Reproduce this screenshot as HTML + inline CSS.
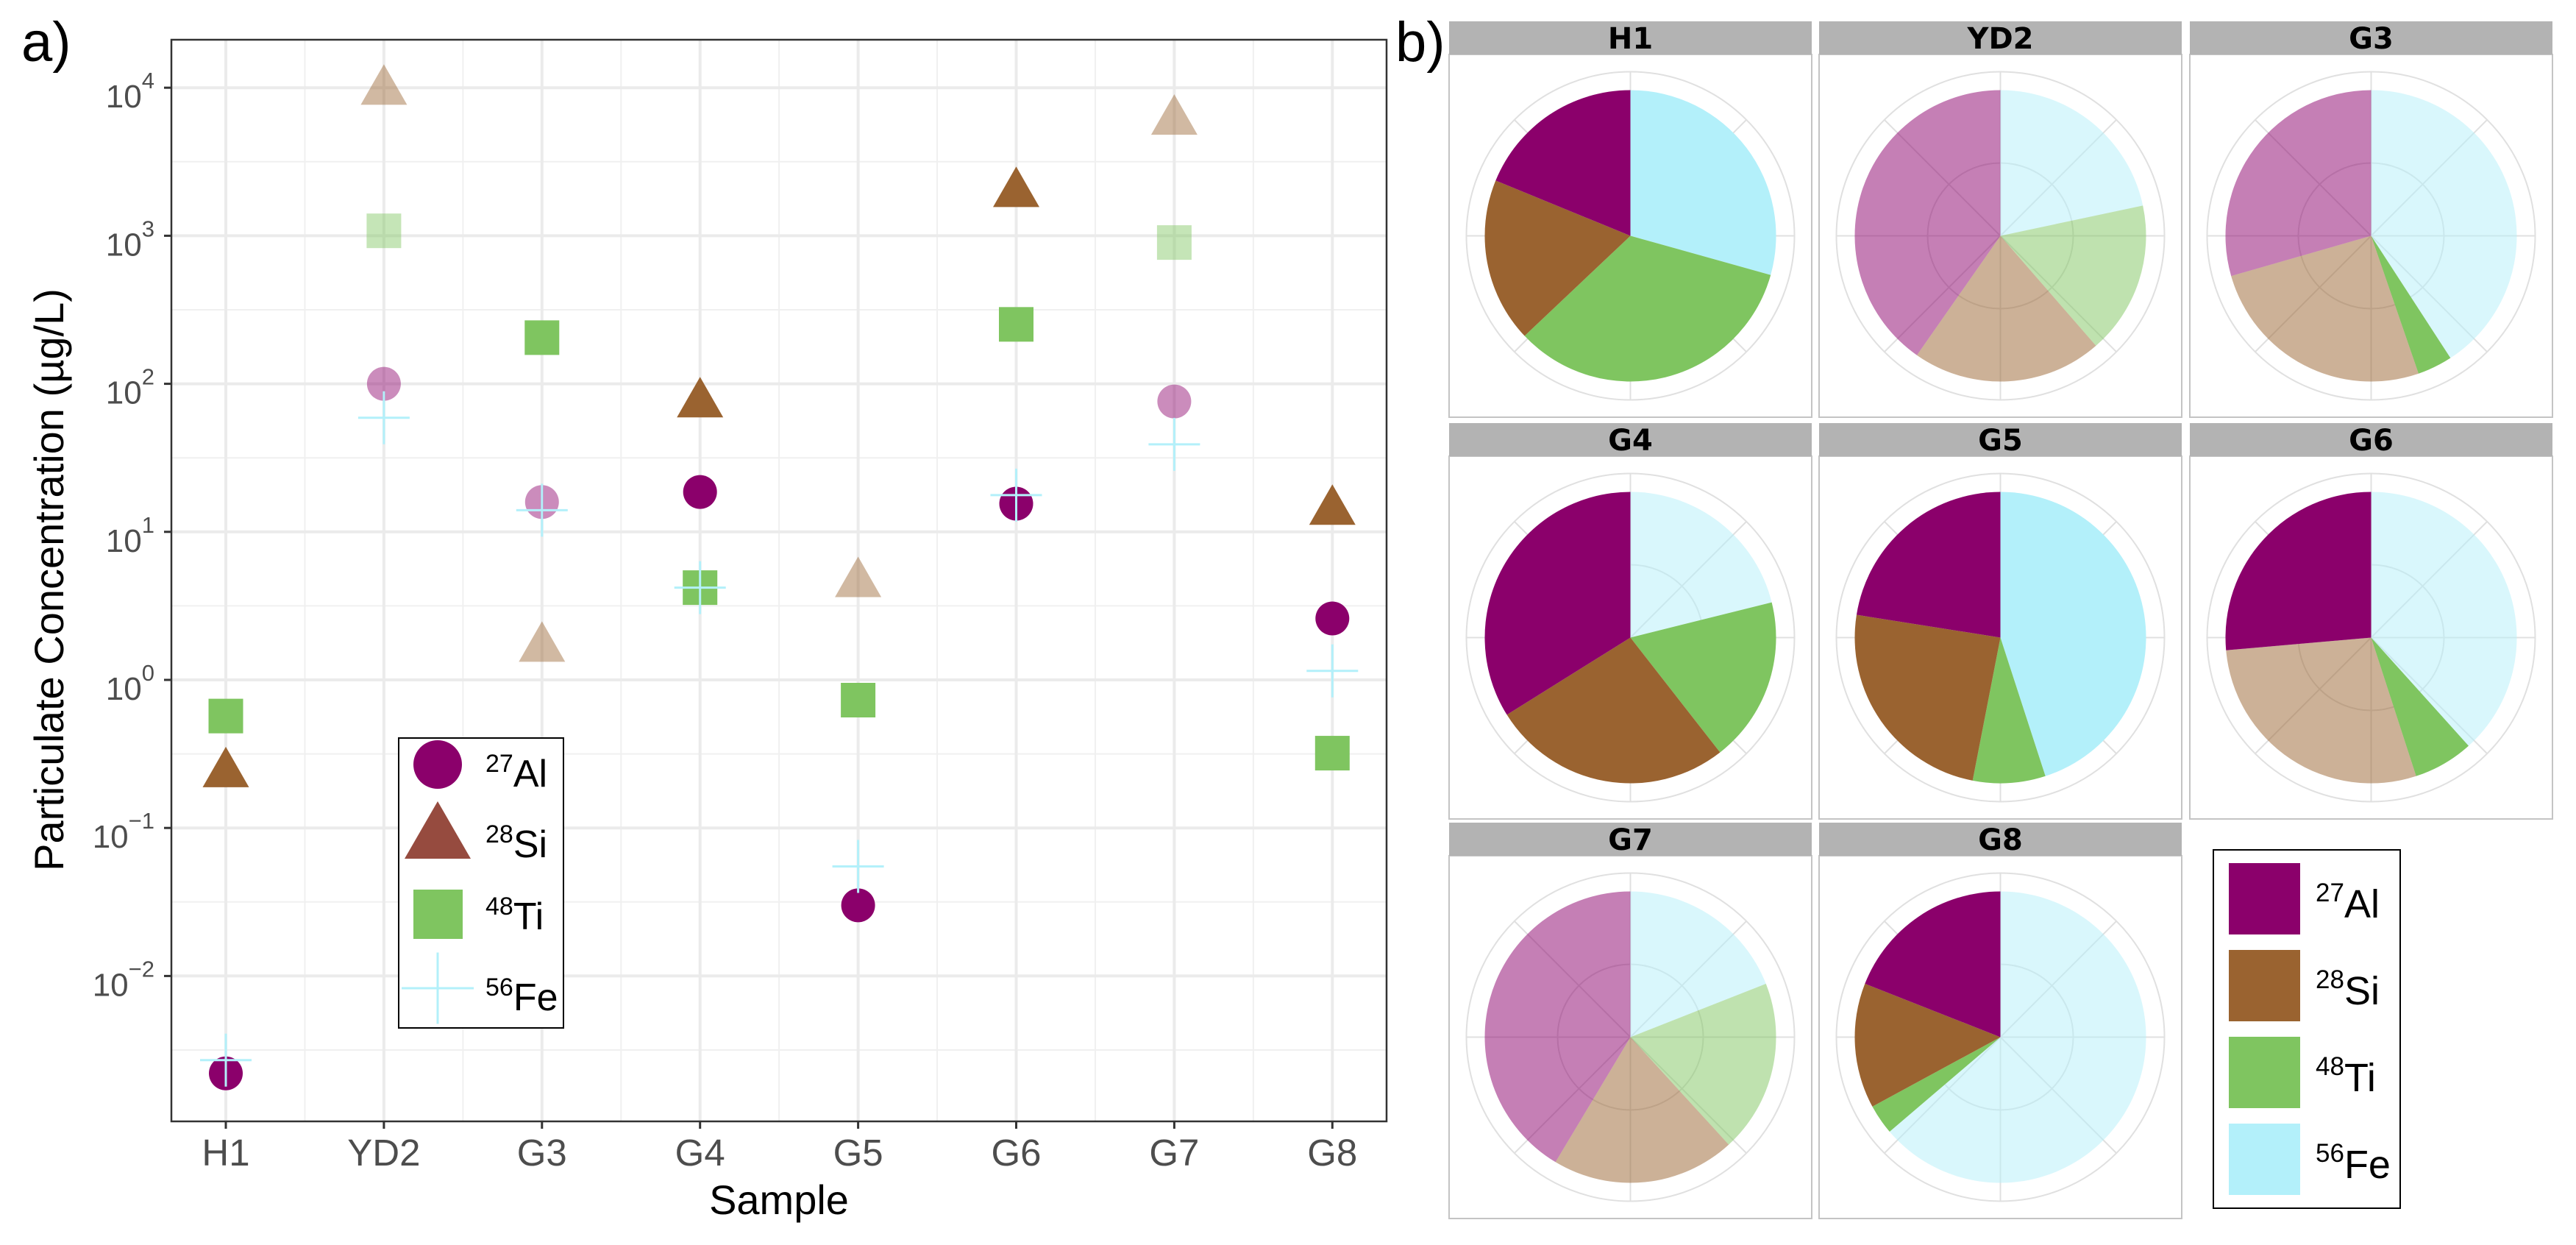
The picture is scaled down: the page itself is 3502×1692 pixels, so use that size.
<!DOCTYPE html>
<html><head><meta charset="utf-8"><style>
html,body{margin:0;padding:0;background:#fff;}
svg{display:block;font-family:"Liberation Sans",Arial,sans-serif;}
</style></head><body>
<svg id="fig" width="3502" height="1692" viewBox="0 0 3502 1692" xmlns="http://www.w3.org/2000/svg">
<rect width="3502" height="1692" fill="#fff"/>
<text x="29" y="83" font-size="76">a)</text>
<text x="1897" y="83" font-size="76">b)</text>
<g id="scatter"></g>
<g id="pies"></g>
</svg>
<script>
const samples = ["H1","YD2","G3","G4","G5","G6","G7","G8"];
const elements = ["Al","Si","Ti","Fe"];
const isotopes = ["27","28","48","56"];
const alValues = [0.0022, 100, 15.9, 18.6, 0.030, 15.5, 76, 2.6];
const siValues = [0.27, 11000, 1.9, 85, 5.2, 2240, 6900, 16];
const tiValues = [0.57, 1080, 205, 4.2, 0.73, 252, 900, 0.32];
const feValues = [0.0027, 59, 14, 4.2, 0.055, 17.7, 39, 1.15];
const alFaded = [0,1,1,0,0,0,1,0];
const siFaded = [0,1,1,0,1,0,1,0];
const tiFaded = [0,1,0,0,0,0,1,0];
const feFaded = [0,0,0,0,0,0,0,0];
const yTicks = [-2,-1,0,1,2,3,4];
// pie shares in degrees (Fe, Ti, Si, Al clockwise from top)
const pieFe = [105.6, 78, 147, 76, 162, 138, 68.5, 229.6];
const pieTi = [121, 61, 14, 66, 29, 24, 69, 12];
const pieSi = [65.7, 76, 93, 96, 88, 103, 73.4, 50];
const pieAl = [67.7, 145, 106, 122, 81, 95, 149, 68.5];
const pieAlFaded = [0,1,1,0,0,0,1,0];
const pieSiFaded = [0,1,1,0,0,1,1,0];
const pieTiFaded = [0,1,0,0,0,0,1,0];
const pieFeFaded = [0,1,1,1,0,1,1,1];

const NS = "http://www.w3.org/2000/svg";
const col = {Al:"#8B006B", Si:"#9A6330", Ti:"#7FC560", Fe:"#B3F0FA"};
function mk(tag, attrs, parent){const e=document.createElementNS(NS,tag);for(const k in attrs)e.setAttribute(k,attrs[k]);parent.appendChild(e);return e;}

// ---------- scatter ----------
const S = document.getElementById("scatter");
const L=233, R=1885, T=54, B=1524;
const x0=307, dx=214.9;
function xs(i){return x0+i*dx;}
function ys(v){return 924 - Math.log10(v)*201.2;}
function yl(l){return 924 - l*201.2;}
mk("rect",{x:L,y:T,width:R-L,height:B-T,fill:"#fff"},S);
for(let i=0;i<7;i++){const x=(xs(i)+xs(i+1))/2;const g=mk("line",{x1:x,x2:x,y1:T,y2:B,stroke:"#f0f0f0","stroke-width":2},S);}
for(let l=-2.5;l<=4.5;l+=1){const y=yl(l);if(y<T||y>B)continue;const g=mk("line",{x1:L,x2:R,y1:y,y2:y,stroke:"#f0f0f0","stroke-width":2},S);}
samples.forEach((s,i)=>{const g=mk("line",{x1:xs(i),x2:xs(i),y1:T,y2:B,stroke:"#ebebeb","stroke-width":4},S);});
yTicks.forEach(l=>{const g=mk("line",{x1:L,x2:R,y1:yl(l),y2:yl(l),stroke:"#ebebeb","stroke-width":4},S);});
function circle(x,y,c,op,name,r){const e=mk("ellipse",{cx:x,cy:y,rx:r,ry:r,fill:c,"fill-opacity":op},S);}
function tri(x,y,c,op,name,w,h){const e=mk("polygon",{points:`${x-w/2},${y+h/2} ${x+w/2},${y+h/2} ${x},${y-h/2}`,fill:c,"fill-opacity":op},S);}
function sq(x,y,c,op,name,w){const e=mk("rect",{x:x-w/2,y:y-w/2,width:w,height:w,fill:c,"fill-opacity":op},S);}
function cross(x,y,c,op,name,w,h,par){const g=mk("g",{stroke:c,"stroke-width":3,"stroke-opacity":op},par||S);mk("line",{x1:x-w/2,x2:x+w/2,y1:y,y2:y},g);mk("line",{x1:x,x2:x,y1:y-h/2,y2:y+h/2},g);}
samples.forEach((s,i)=>{
  tri(xs(i),ys(siValues[i])+4,col.Si,siFaded[i]?0.45:1,"si-point-"+s,63,55);
  sq(xs(i),ys(tiValues[i]),col.Ti,tiFaded[i]?0.45:1,"ti-point-"+s,47);
  circle(xs(i),ys(alValues[i]),col.Al,alFaded[i]?0.45:1,"al-point-"+s,23);
  cross(xs(i),ys(feValues[i]),col.Fe,feFaded[i]?0.45:1,"fe-point-"+s,70,72);
});
mk("rect",{x:L,y:T,width:R-L,height:B-T,fill:"none",stroke:"#333","stroke-width":2.5},S);
samples.forEach((s,i)=>{mk("line",{x1:xs(i),x2:xs(i),y1:B,y2:B+10,stroke:"#333","stroke-width":3},S);
  const t=mk("text",{x:xs(i),y:1584,"font-size":51,fill:"#4d4d4d","text-anchor":"middle"},S);t.textContent=s;
  });
yTicks.forEach(l=>{const y=yl(l);mk("line",{x1:L-10,x2:L,y1:y,y2:y,stroke:"#333","stroke-width":3},S);
  const t=mk("text",{x:210,y:y+27,"font-size":44,fill:"#4d4d4d","text-anchor":"end"},S);
  
  const a=mk("tspan",{},t);a.textContent="10";const b=mk("tspan",{dy:-26,"font-size":31},t);b.textContent=(l<0?"\u2212"+(-l):String(l));});
const xt=mk("text",{x:1059,y:1650,"font-size":56,"text-anchor":"middle",fill:"#000"},S);xt.textContent="Sample";

const yt=mk("text",{x:0,y:0,"font-size":56,"text-anchor":"middle",fill:"#000",transform:"translate(86,788) rotate(-90)"},S);yt.textContent="Particulate Concentration (\u00b5g/L)";

const LG=mk("g",{},S);
mk("rect",{x:542,y:1003,width:224,height:394,fill:"#fff",stroke:"#000","stroke-width":2},LG);
const legY=[1039,1135,1233,1343];
{const e=mk("ellipse",{cx:595,cy:1039,rx:33,ry:33,fill:col.Al},LG);}
{const e=mk("polygon",{points:"550,1167 640,1167 595,1089",fill:"#964B3F"},LG);}
{const e=mk("rect",{x:562,y:1209,width:67,height:67,fill:col.Ti},LG);}
cross(595,1343,col.Fe,1,"legend-key-fe",98,97,LG);
elements.forEach((el,k)=>{const t=mk("text",{x:660,y:legY[k]+30,"font-size":52,fill:"#000"},LG);
  
  const a=mk("tspan",{"font-size":34,dy:-20},t);a.textContent=isotopes[k];const b=mk("tspan",{dy:20},t);b.textContent=el;});

// ---------- pies ----------
const P=document.getElementById("pies");
const colX=[1970,2473,2977], colW=493;
const rowStrip=[29,575,1118], stripH=45, panelH=493;
const pieR=198, gridR=223;
function pt(cx,cy,r,deg){const a=deg*Math.PI/180;return [cx+r*Math.sin(a),cy-r*Math.cos(a)];}
samples.forEach((s,i)=>{
  const c=i%3,r=Math.floor(i/3);
  const x=colX[c], y0=rowStrip[r], y1=y0+stripH, yb=y1+panelH;
  const g=mk("g",{},P);
  mk("rect",{x:x,y:y1,width:colW,height:yb-y1,fill:"#fff",stroke:"#c4c4c4","stroke-width":2},g);
  const st=mk("rect",{x:x,y:y0,width:colW,height:stripH,fill:"#b3b3b3"},g);
  const tt=mk("text",{x:x+colW/2,y:y0+37,"font-size":40,"font-weight":"bold","font-family":"DejaVu Sans, sans-serif","text-anchor":"middle",fill:"#000"},g);tt.textContent=s;
  
  const cx=x+colW/2, cy=(y1+yb)/2;
  mk("circle",{cx:cx,cy:cy,r:gridR,fill:"none",stroke:"#e0e0e0","stroke-width":2},g);
  mk("circle",{cx:cx,cy:cy,r:99,fill:"none",stroke:"#e0e0e0","stroke-width":2},g);
  for(let a=0;a<360;a+=45){const p=pt(cx,cy,gridR,a);mk("line",{x1:cx,y1:cy,x2:p[0],y2:p[1],stroke:"#e0e0e0","stroke-width":2},g);}
  const vals=[pieFe[i],pieTi[i],pieSi[i],pieAl[i]];
  const fades=[pieFeFaded[i],pieTiFaded[i],pieSiFaded[i],pieAlFaded[i]];
  const cols=[col.Fe,col.Ti,col.Si,col.Al], nm=["fe","ti","si","al"];
  const tot=vals.reduce((a,b)=>a+b,0);
  let acc=0;
  vals.forEach((v,k)=>{const a0=acc/tot*360, a1=(acc+v)/tot*360;acc+=v;
    const p0=pt(cx,cy,pieR,a0),p1=pt(cx,cy,pieR,a1);
    const large=(a1-a0)>180?1:0;
    const e=mk("path",{d:`M${cx},${cy} L${p0[0]},${p0[1]} A${pieR},${pieR} 0 ${large} 1 ${p1[0]},${p1[1]} Z`,fill:cols[k],"fill-opacity":fades[k]?0.5:1},g);
    });
});
const LB=mk("g",{},P);
mk("rect",{x:3009,y:1155,width:254,height:487,fill:"#fff",stroke:"#000","stroke-width":2},LB);
elements.forEach((el,k)=>{const y=1173+k*118;
  const e=mk("rect",{x:3030,y:y,width:97,height:97,fill:col[el]},LB);
  const t=mk("text",{x:3148,y:y+74,"font-size":54,fill:"#000"},LB);
  
  const a=mk("tspan",{"font-size":35,dy:-22},t);a.textContent=isotopes[k];const b=mk("tspan",{dy:22},t);b.textContent=el;});
</script>
</body></html>
